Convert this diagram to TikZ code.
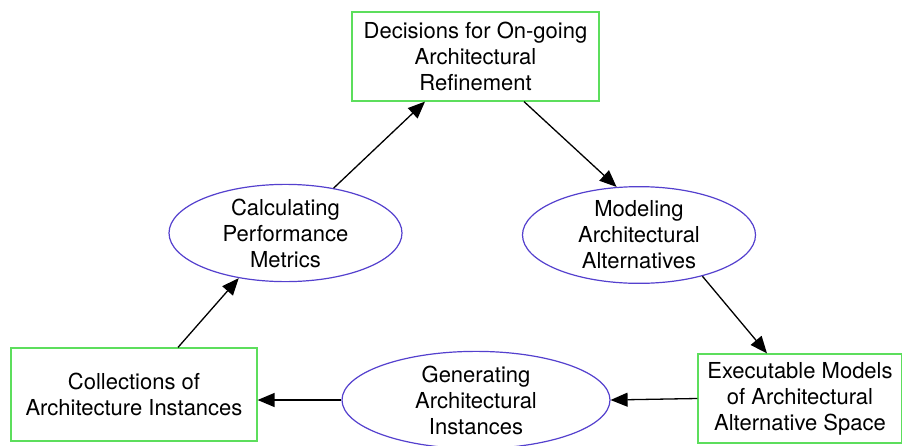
\documentclass[tikz,border=0pt]{standalone}
\usepackage{fontspec}
\setmainfont{TeX Gyre Heros}
\usetikzlibrary{shapes.geometric,arrows.meta,calc}

\definecolor{boxgreen}{RGB}{92,222,92}
\definecolor{ovalblue}{RGB}{84,64,206}

\tikzset{
  artifact/.style={draw=boxgreen, line width=1.2pt, fill=white, align=center,
    inner sep=0pt, font=\fontsize{22}{26}\selectfont},
  activity/.style={ellipse, draw=ovalblue, line width=1.2pt, fill=white, align=center,
    inner sep=0pt, minimum width=233pt, minimum height=92pt,
    font=\fontsize{22}{26}\selectfont},
  flow/.style={-{Triangle[length=17pt,width=14pt]}, line width=1.3pt, black}
}

\begin{document}
\begin{tikzpicture}[x=1pt,y=-1pt]
  \useasboundingbox (0,0) rectangle (902,445);

  % artifacts (rectangles)
  \node[artifact, minimum width=247pt, minimum height=89pt] (decide) at (475.5,56.5)
    {Decisions for On-going\\Architectural\\Refinement};
  \node[artifact, minimum width=246pt, minimum height=93pt] (collect) at (134,394.5)
    {Collections of\\Architecture Instances};
  \node[artifact, minimum width=204pt, minimum height=89pt] (exec) at (800,398.5)
    {Executable Models\\of Architectural\\Alternative Space};

  % activities (ellipses)
  \node[activity] (calc) at (285.5,233) {Calculating\\Performance\\Metrics};
  \node[activity] (model) at (639,235) {Modeling\\Architectural\\Alternatives};
  \node[activity, minimum width=268pt, minimum height=94pt] (gen) at (476,400)
    {Generating\\Architectural\\Instances};

  % cycle of connectors
  \draw[flow] ($(decide.south)+(48.5,0)$) -- (model.115);
  \draw[flow] (model.-33) -- ($(exec.north)+(-33,0)$);
  \draw[flow] (exec.west) -- (gen.east);
  \draw[flow] (gen.west) -- (collect.east |- gen.west);
  \draw[flow] ($(collect.north)+(44,0)$) -- (calc.224);
  \draw[flow] (calc.43) -- ($(decide.south)+(-50.5,0)$);
\end{tikzpicture}
\end{document}
